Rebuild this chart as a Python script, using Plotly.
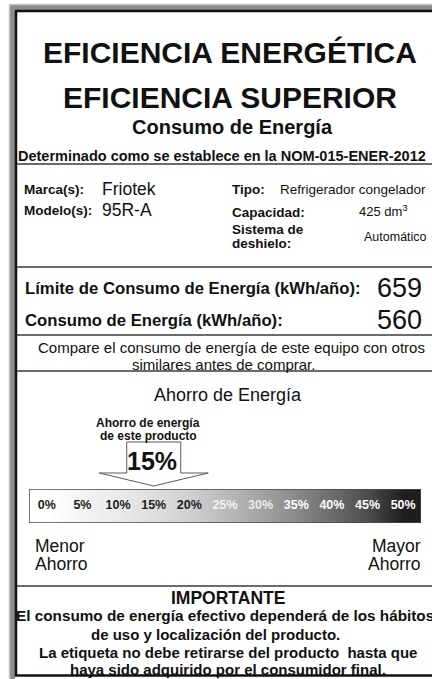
import plotly.graph_objects as go

W, H = 432, 679
FONT = "Liberation Sans, Arial, sans-serif"

# ---- data ----
title_lines = ["EFICIENCIA ENERGÉTICA", "EFICIENCIA SUPERIOR"]
subtitle = "Consumo de Energía"
norm_text = "Determinado como se establece en la NOM-015-ENER-2012"
brand = "Friotek"
model = "95R-A"
appliance_type = "Refrigerador congelador"
capacity = "425 dm<sup>3</sup>"
defrost = "Automático"
limit_kwh = 659
consumption_kwh = 560
savings_levels = [0, 5, 10, 15, 20, 25, 30, 35, 40, 45, 50]
savings_labels = ["0%", "5%", "10%", "15%", "20%", "25%", "30%", "35%", "40%", "45%", "50%"]
level_shades = [255, 244, 234, 222, 208, 186, 163, 138, 108, 76, 30]
product_savings = 15

label_colors = ["#1c1c1c"] * 5 + ["#f2f2f2", "#ececec"] + ["#ffffff"] * 4


def px(x):
    return x / W


def py(y):
    return 1 - y / H


fig = go.Figure()

fig.add_trace(go.Heatmap(
    x=savings_levels, y=[0], z=[level_shades],
    colorscale=[[0, "#000000"], [1, "#ffffff"]], zmin=0, zmax=255,
    zsmooth="best", showscale=False, hoverinfo="skip",
))
fig.add_trace(go.Scatter(
    x=savings_levels, y=[0] * len(savings_levels), mode="text",
    text=["<b>%s</b>" % t for t in savings_labels],
    textfont=dict(family=FONT, size=12.5, color=label_colors),
    hoverinfo="skip", showlegend=False,
))

shapes = []
# frame
shapes.append(dict(type="rect", xref="paper", yref="paper", x0=px(9), x1=px(15), y0=py(679), y1=py(4),
                   fillcolor="#8c8c8c", line=dict(width=0), layer="below"))
shapes.append(dict(type="rect", xref="paper", yref="paper", x0=px(9), x1=px(440), y0=py(10), y1=py(4),
                   fillcolor="#8c8c8c", line=dict(width=0), layer="below"))
shapes.append(dict(type="line", xref="paper", yref="paper", x0=px(9.5), x1=px(9.5), y0=py(679), y1=py(4),
                   line=dict(color="#c4c4c4", width=1.5)))
shapes.append(dict(type="line", xref="paper", yref="paper", x0=px(9), x1=px(440), y0=py(4.5), y1=py(4.5),
                   line=dict(color="#c4c4c4", width=1.5)))
shapes.append(dict(type="line", xref="paper", yref="paper", x0=px(16), x1=px(16), y0=py(676), y1=py(11),
                   line=dict(color="#111111", width=2.5)))
shapes.append(dict(type="line", xref="paper", yref="paper", x0=px(15), x1=px(440), y0=py(11), y1=py(11),
                   line=dict(color="#111111", width=2.5)))
shapes.append(dict(type="line", xref="paper", yref="paper", x0=px(15), x1=px(440), y0=py(675.5), y1=py(675.5),
                   line=dict(color="#111111", width=2.5)))
# separators
for yy in [164, 267, 335, 371, 586]:
    shapes.append(dict(type="line", xref="paper", yref="paper", x0=px(17), x1=px(440), y0=py(yy), y1=py(yy),
                       line=dict(color="#3a3a3a", width=1.5)))

# bar border
shapes.append(dict(type="rect", xref="x", yref="y", x0=-2.5, x1=52.5, y0=-0.5, y1=0.5,
                   line=dict(color="#4a4a4a", width=1.5)))

# arrow pointing to product savings (x in data units, y in pixels)
u = 392 / 55.0
bx = 27 / u
wx = 54.5 / u
ax = product_savings
pts = [(ax - bx, 442), (ax + bx, 442), (ax + bx, 473), (ax + wx, 473), (ax, 486),
       (ax - wx, 473), (ax - bx, 473)]
path = "M " + " L ".join("%f,%f" % (x, py(y)) for x, y in pts) + " Z"
shapes.append(dict(type="path", xref="x", yref="paper", path=path, fillcolor="#ffffff",
                   line=dict(color="#5a5a5a", width=1)))

ann = []


def T(text, x, y, size, bold=False, xanchor="center", color="#111111", xref="paper"):
    ann.append(dict(text=("<b>%s</b>" % text) if bold else text, x=px(x) if xref == "paper" else x,
                    y=py(y), xref=xref, yref="paper", xanchor=xanchor, yanchor="middle",
                    showarrow=False, font=dict(family=FONT, size=size, color=color)))


T(title_lines[0], 230, 53, 30, True)
T(title_lines[1], 230, 98, 30, True)
T(subtitle, 232, 127, 20, True)
T(norm_text, 222, 156, 14.5, True)

T("Marca(s):", 22, 189, 13.5, True, "left")
T(brand, 100, 189, 17.5, False, "left")
T("Modelo(s):", 22, 210, 13.5, True, "left")
T(model, 100, 210, 17.5, False, "left")
T("Tipo:", 230, 189, 13.5, True, "left")
T(appliance_type, 278, 189, 13.5, False, "left")
T("Capacidad:", 230, 212, 13.5, True, "left")
T(capacity, 357, 211, 13, False, "left")
T("Sistema de", 230, 229, 13.5, True, "left")
T("deshielo:", 230, 243, 13.5, True, "left")
T(defrost, 362, 237, 12.5, False, "left")

T("Límite de Consumo de Energía (kWh/año):", 23, 288, 16.7, True, "left")
T(str(limit_kwh), 424, 288, 27, False, "right")
T("Consumo de Energía (kWh/año):", 23, 320, 16.7, True, "left")
T(str(consumption_kwh), 424, 320, 27, False, "right")

T("Compare el consumo de energía de este equipo con otros", 231, 347, 15)
T("similares antes de comprar.", 223, 364, 15)

T("Ahorro de Energía", 228, 395, 18)
T("Ahorro de energía", product_savings - 0.8, 423, 12, True, xref="x")
T("de este producto", product_savings - 0.8, 436, 12, True, xref="x")
T("%d%%" % product_savings, product_savings - 0.3, 461, 25, True, xref="x")

T("Menor", 33, 546, 17.5, False, "left")
T("Ahorro", 33, 564, 17.5, False, "left")
T("Mayor", 423, 546, 17.5, False, "right")
T("Ahorro", 423, 564, 17.5, False, "right")

T("IMPORTANTE", 228, 598, 17.5, True)
T("El consumo de energía efectivo dependerá de los hábitos", 225, 615, 15.3, True)
T("de uso y localización del producto.", 215, 634, 15, True)
T("La etiqueta no debe retirarse del producto  hasta que", 228, 652, 15, True)
T("haya sido adquirido por el consumidor final.", 228, 669, 15, True)

fig.update_layout(
    width=W, height=H, margin=dict(l=0, r=0, t=0, b=0),
    paper_bgcolor="#ffffff", plot_bgcolor="#ffffff", showlegend=False,
    xaxis=dict(domain=[px(29), px(421)], range=[-2.5, 52.5], visible=False, fixedrange=True),
    yaxis=dict(domain=[py(523), py(489)], range=[-0.5, 0.5], visible=False, fixedrange=True),
    shapes=shapes, annotations=ann,
)

fig.write_html("out.html", config={"displayModeBar": False},
               post_script="document.body.style.margin='0';document.body.style.overflow='hidden';")
